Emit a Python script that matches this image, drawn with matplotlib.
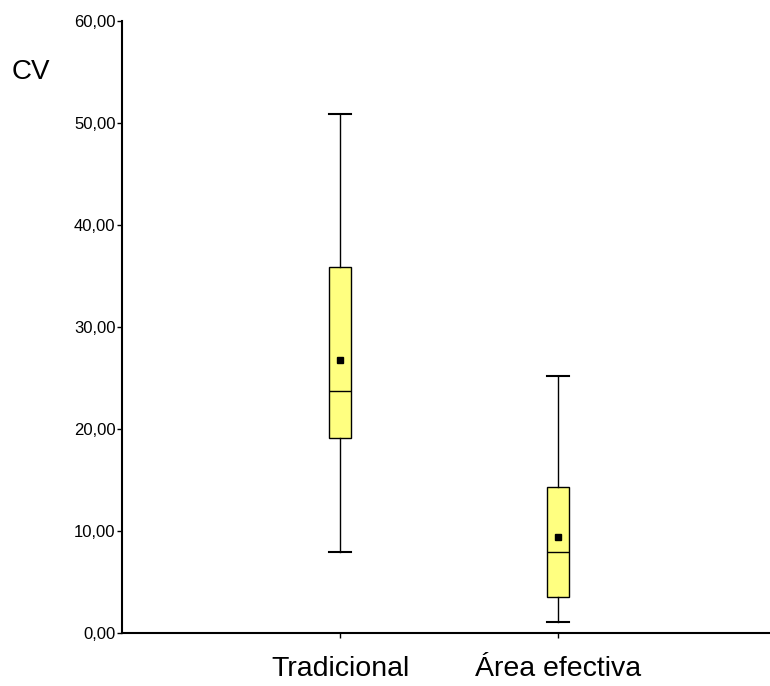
import matplotlib
matplotlib.use("Agg")
import matplotlib.pyplot as plt
from matplotlib.ticker import FuncFormatter

plt.rcParams['font.family'] = ['Liberation Sans', 'DejaVu Sans']

categories = ["Tradicional", "Área efectiva"]
whisker_low = [7.97, 1.05]
q1 = [19.15, 3.53]
median = [23.75, 7.94]
q3 = [35.9, 14.28]
whisker_high = [50.9, 25.2]
mean = [26.76, 9.41]
yticks = [0, 10, 20, 30, 40, 50, 60]

fig = plt.figure(figsize=(7.7, 6.86), dpi=100)
ax = fig.add_axes([122/770, 53/686, 1 - 122/770, (633-21)/686])

stats = []
for i in range(len(categories)):
    stats.append(dict(label=categories[i], whislo=whisker_low[i], q1=q1[i], med=median[i],
                      q3=q3[i], whishi=whisker_high[i], mean=mean[i], fliers=[]))

positions = [1, 2]
ax.bxp(stats, positions=positions, widths=0.1, showmeans=True, patch_artist=True,
       boxprops=dict(facecolor='#ffff80', edgecolor='black', linewidth=1.0),
       medianprops=dict(color='black', linewidth=1.0),
       whiskerprops=dict(color='black', linewidth=1.0),
       capprops=dict(color='black', linewidth=1.5),
       meanprops=dict(marker='s', markerfacecolor='black', markeredgecolor='black', markersize=4.5),
       capwidths=0.1)

ax.set_xlim(0, 2.97)
ax.set_ylim(0, 60)
ax.set_yticks(yticks)
ax.yaxis.set_major_formatter(FuncFormatter(lambda v, p: f"{v:.2f}".replace('.', ',')))
ax.set_xticks(positions)
ax.set_xticklabels(categories, fontsize=20.5)
ax.tick_params(axis='x', length=3.6, width=1.0, pad=13)
ax.tick_params(axis='y', length=3.6, width=1.0, pad=1, labelsize=12)
for s in ['top', 'right']:
    ax.spines[s].set_visible(False)
for s in ['left', 'bottom']:
    ax.spines[s].set_linewidth(1.5)

fig.text(12/770, 1 - 72/686, "CV", fontsize=20, va='center', ha='left')

fig.savefig("out.png", dpi=100)
